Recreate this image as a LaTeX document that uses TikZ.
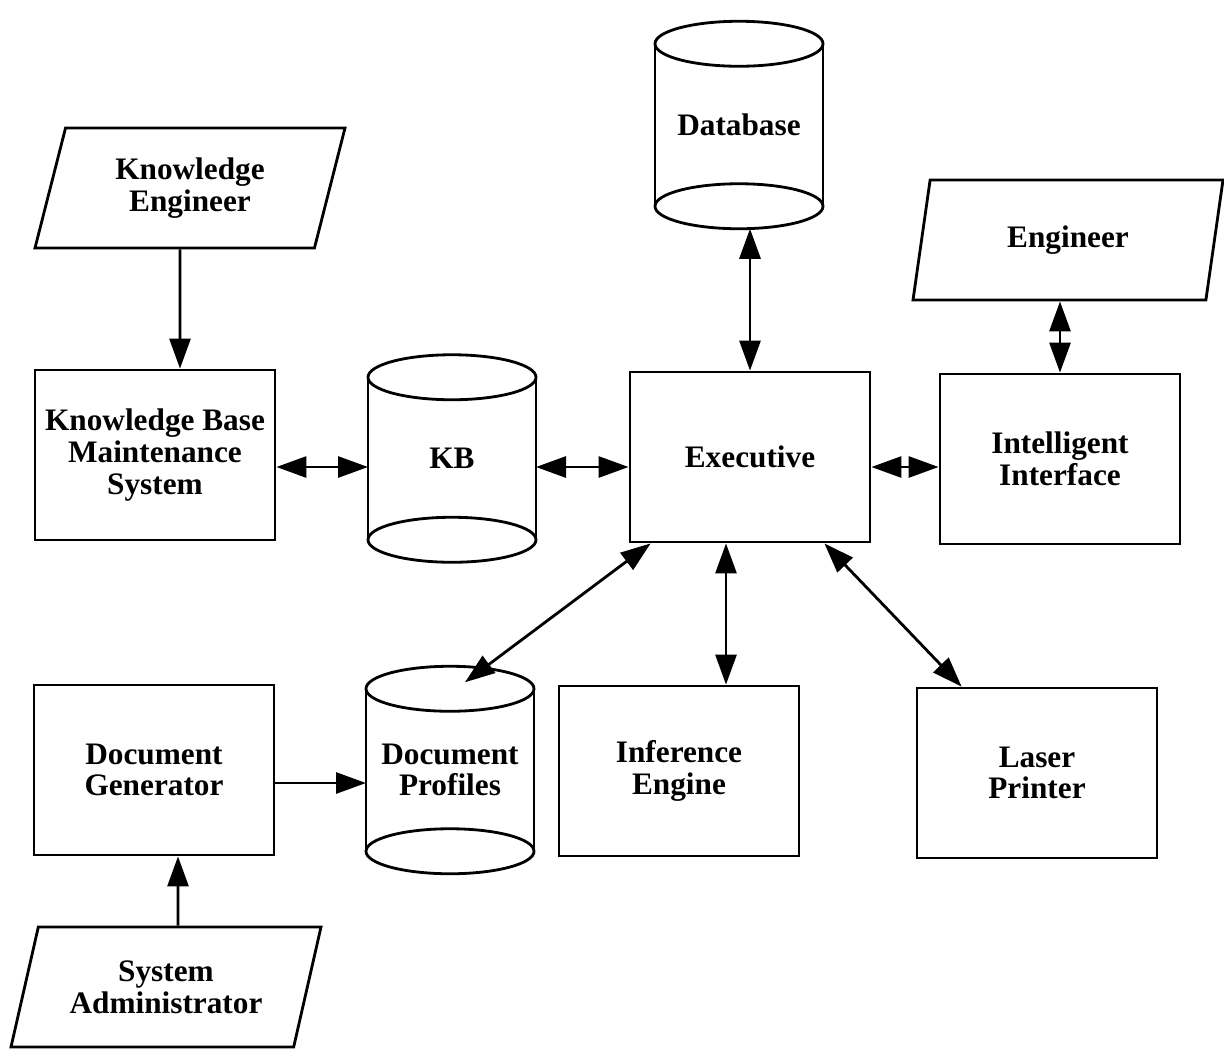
\documentclass[tikz,border=0pt]{standalone}
\usepackage{fontspec}
\setmainfont{Liberation Serif}
\usetikzlibrary{shapes.geometric, arrows.meta}

% cylinder outline round a named store node
\newcommand{\cylry}{0.45cm}
\newcommand{\cylframe}[1]{%
  \draw ([yshift=-\cylry]#1.north) ellipse [x radius=1.68cm, y radius=\cylry];
  \draw ([yshift=\cylry]#1.south) ellipse [x radius=1.68cm, y radius=\cylry];
  \draw ([yshift=-\cylry]#1.north west) -- ([yshift=\cylry]#1.south west)
        ([yshift=-\cylry]#1.north east) -- ([yshift=\cylry]#1.south east);
}

\begin{document}
\begin{tikzpicture}[
        line width=1.6pt,
        >={Triangle[length=0.6cm, width=0.42cm]},
        label font/.style={font=\fontsize{17.8}{18}\selectfont\bfseries, align=center},
        box/.style={draw, rectangle, minimum width=4.8cm, minimum height=3.4cm, label font},
        store/.style={rectangle, outer sep=0pt, minimum width=3.36cm, minimum height=4.15cm, label font},
        actor/.style={draw, trapezium, trapezium left angle=67, trapezium right angle=113, trapezium stretches body, minimum width=6.2cm, minimum height=2.4cm, label font},
        flow/.style={->},
        twoway/.style={<->}
    ]
    \useasboundingbox (0,0) rectangle (24.48,-21);

        % People
        \node[actor] (keng) at (3.8,-3.76) {Knowledge\\Engineer};
        \node[actor] (eng) at (21.36,-4.8) {Engineer};
        \node[actor] (sysadm) at (3.32,-19.74) {System\\Administrator};

        % Stores
        \node[store] (db) at (14.78,-2.5) {Database};
        \cylframe{db}
        \node[store] (kb) at (9.04,-9.17) {KB};
        \cylframe{kb}
        \node[store] (profiles) at (9.0,-15.4) {Document\\Profiles};
        \cylframe{profiles}

        % Modules
        \node[box] (kbms) at (3.1,-9.1) {Knowledge Base\\Maintenance\\System};
        \node[box] (exec) at (15.0,-9.14) {Executive};
        \node[box] (iface) at (21.2,-9.18) {Intelligent\\Interface};
        \node[box] (docgen) at (3.08,-15.4) {Document\\Generator};
        \node[box] (infer) at (13.58,-15.42) {Inference\\Engine};
        \node[box] (printer) at (20.74,-15.46) {Laser\\Printer};

        % Knowledge base side
        \draw[flow] ([xshift=-0.2cm]keng.south) -- ([xshift=0.5cm]kbms.north);
        \draw[twoway] ([yshift=-0.24cm]kbms.east) -- ([yshift=-0.24cm]kbms.east -| kb.west);
        \draw[twoway] ([yshift=-0.2cm]exec.west -| kb.east) -- ([yshift=-0.2cm]exec.west);

        % Executive links
        \draw[twoway] (db.south -| exec.north) -- (exec.north);
        \draw[twoway] ([yshift=-0.2cm]exec.east) -- ([yshift=-0.2cm]exec.east -| iface.west);
        \draw[twoway] (eng.south -| iface.north) -- (iface.north);
        \draw[twoway] ([xshift=0.44cm]exec.south west) -- ([xshift=0.3cm, yshift=-0.32cm]profiles.north);
        \draw[twoway] ([xshift=-0.48cm]exec.south) -- ([xshift=0.94cm]infer.north);
        \draw[twoway] ([xshift=-0.94cm]exec.south east) -- ([xshift=0.92cm]printer.north west);

        % Document side
        \draw[flow] ([yshift=-0.26cm]docgen.east) -- ([yshift=-0.26cm]docgen.east -| profiles.west);
        \draw[flow] ([xshift=0.24cm]sysadm.north) -- ([xshift=0.48cm]docgen.south);

    \end{tikzpicture}
\end{document}
